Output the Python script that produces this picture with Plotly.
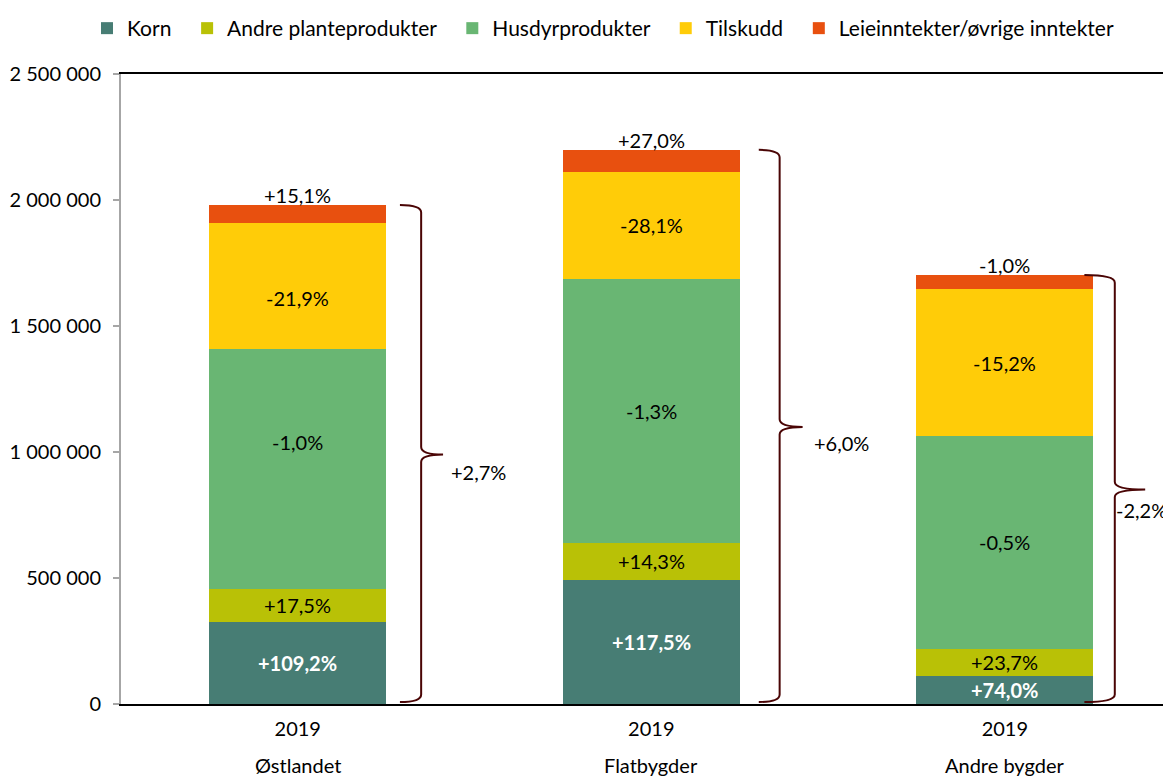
import plotly.graph_objects as go

# ---------------- data ----------------
regions = ["Østlandet", "Flatbygder", "Andre bygder"]
year_labels = ["2019", "2019", "2019"]

series_names = ["Korn", "Andre planteprodukter", "Husdyrprodukter", "Tilskudd",
                "Leieinntekter/øvrige inntekter"]

korn = [327000, 491000, 112000]
andre_plante = [130000, 149000, 108000]
husdyr = [952000, 1045000, 842000]
tilskudd = [500000, 428000, 584000]
leie = [71000, 86000, 56000]

korn_lbl = ["+109,2%", "+117,5%", "+74,0%"]
andre_lbl = ["+17,5%", "+14,3%", "+23,7%"]
husdyr_lbl = ["-1,0%", "-1,3%", "-0,5%"]
tilskudd_lbl = ["-21,9%", "-28,1%", "-15,2%"]
leie_lbl = ["+15,1%", "+27,0%", "-1,0%"]
total_lbl = ["+2,7%", "+6,0%", "-2,2%"]

y_ticks = [0, 500000, 1000000, 1500000, 2000000, 2500000]

# ---------------- styles ----------------
colors = ["#477D74", "#B9C106", "#69B673", "#FFCC08", "#E8500F"]
FONT = "Lato"
FS = 20
LEG_FS = 21
brace_color = "#4A0505"
LEG_PAD = "\u00a0\u00a0"  # extra spacing between legend entries

series = [korn, andre_plante, husdyr, tilskudd, leie]
labels = [korn_lbl, andre_lbl, husdyr_lbl, tilskudd_lbl, leie_lbl]
label_colors = ["white", "black", "black", "black", "black"]
label_bold = [True, False, False, False, False]
# manual vertical nudges of some labels (px, positive = up)
label_dy = [[0, 0, 0], [0, 0, 0], [27, 0, 0], [-12, 0, 0], [0, 0, 0]]

xs = list(range(len(regions)))
BAR_W = 0.5

fig = go.Figure()
for k, (name, vals, col) in enumerate(zip(series_names, series, colors)):
    shown = name + (LEG_PAD if k < len(series_names) - 1 else "")
    fig.add_bar(x=xs, y=vals, name=shown, marker_color=col, marker_line_width=0,
                width=BAR_W, hoverinfo="skip")

annotations = []
# segment labels
for s_idx, (vals, lbls) in enumerate(zip(series, labels)):
    for i in xs:
        base = sum(series[k][i] for k in range(s_idx))
        txt = lbls[i]
        if label_bold[s_idx]:
            txt = "<b>" + txt + "</b>"
        if s_idx == len(series) - 1:
            annotations.append(dict(x=i, y=base + vals[i], xref="x", yref="y", text=txt,
                                    showarrow=False, yanchor="bottom", yshift=-4,
                                    font=dict(family=FONT, size=FS, color=label_colors[s_idx])))
        else:
            annotations.append(dict(x=i, y=base + vals[i] / 2, xref="x", yref="y", text=txt,
                                    showarrow=False, yanchor="middle", yshift=label_dy[s_idx][i],
                                    font=dict(family=FONT, size=FS, color=label_colors[s_idx])))

# braces + total labels
brace_x0 = [0.289, 0.304, 0.225]
brace_x1 = [0.349, 0.363, 0.311]
brace_x2 = [0.411, 0.428, 0.397]
total_dx = [6, 9, -31]
total_dy = [-17, -16, -20]
r = 30000
shapes = []
for i in xs:
    top = sum(s[i] for s in series)
    bot = 8000
    mid = top / 2
    x0, x1, x2 = i + brace_x0[i], i + brace_x1[i], i + brace_x2[i]
    path = (f"M {x0},{top} Q {x1},{top} {x1},{top - r} L {x1},{mid + r} "
            f"Q {x1},{mid} {x2},{mid} Q {x1},{mid} {x1},{mid - r} "
            f"L {x1},{bot + r} Q {x1},{bot} {x0},{bot}")
    shapes.append(dict(type="path", path=path, xref="x", yref="y",
                       line=dict(color=brace_color, width=2)))
    annotations.append(dict(x=x2, y=mid, xref="x", yref="y", text=total_lbl[i],
                            showarrow=False, xanchor="left", yanchor="middle",
                            xshift=total_dx[i], yshift=total_dy[i],
                            font=dict(family=FONT, size=FS, color="black")))

# region names (second line of category axis)
for i in xs:
    annotations.append(dict(x=i, y=-0.0964, xref="x", yref="paper", text=regions[i],
                            showarrow=False, yanchor="middle",
                            font=dict(family=FONT, size=FS, color="black")))

# page body has an 8px margin: figure is drawn from (8, 8)
fig.update_layout(
    width=1163, height=770,
    margin=dict(l=113, r=0, t=63, b=74),
    paper_bgcolor="white", plot_bgcolor="white",
    barmode="stack",
    separators=", ",
    font=dict(family=FONT, size=FS, color="black"),
    showlegend=True,
    legend=dict(orientation="h", x=-0.0324, xanchor="left", y=1.0727, yanchor="middle",
                font=dict(family=FONT, size=LEG_FS, color="black"), traceorder="normal"),
    hovermode=False,
    annotations=annotations,
    shapes=shapes,
    xaxis=dict(range=[-0.5, 2.47], tickvals=xs, ticktext=year_labels, showgrid=False,
               zeroline=False, showline=True, linecolor="black", linewidth=2, mirror=True,
               ticks="", ticklabelstandoff=6,
               tickfont=dict(family=FONT, size=FS, color="black"), fixedrange=True),
    yaxis=dict(range=[0, 2500000], tickvals=y_ticks, tickformat=",d", showgrid=False,
               zeroline=False, showline=True, linecolor="#A6A6A6", linewidth=2,
               ticks="outside", ticklen=6, tickcolor="#A6A6A6", tickwidth=2,
               ticklabelstandoff=8,
               tickfont=dict(family=FONT, size=FS, color="black"), fixedrange=True),
)

fig.write_html("out.html")
